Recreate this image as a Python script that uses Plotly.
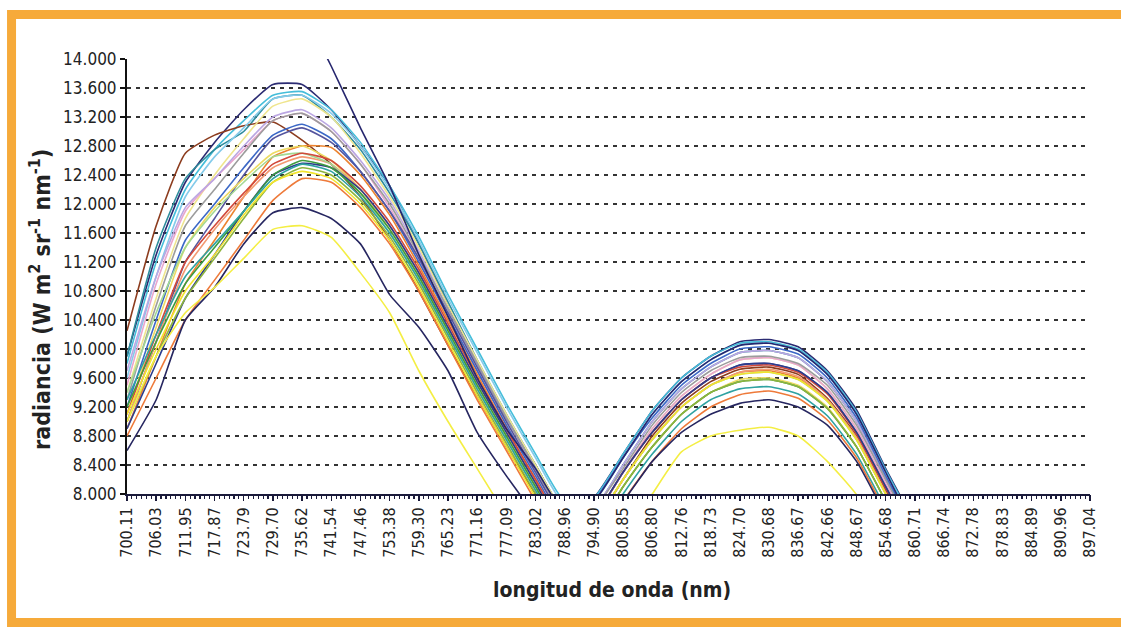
import plotly.graph_objects as go

# ---------------- data ----------------
wavelength_labels = [
    "700.11", "706.03", "711.95", "717.87", "723.79", "729.70", "735.62", "741.54",
    "747.46", "753.38", "759.30", "765.23", "771.16", "777.09", "783.02", "788.96",
    "794.90", "800.85", "806.80", "812.76", "818.73", "824.70", "830.68", "836.67",
    "842.66", "848.67", "854.68", "860.71", "866.74", "872.78", "878.83", "884.89",
    "890.96", "897.04",
]

N = None
# radiance values at each labelled wavelength (None = not readable / far below axis)
navy_top  = [9900, 11300, 12300, 12850, 13300, 13650, 13650, 13300, 12800, 12250, 11450, 10600, 9800, 9050, 8400, 7750,
             7950, 8550, 9150, 9600, 9900, 10100, 10130, 10030, 9700, 9160, 8350, 7600, N, N, N, N, N, N]
cyan      = [9800, 11200, 12200, 12750, 13150, 13500, 13550, 13300, 12850, 12250, 11550, 10750, 10000, 9250, 8550, 7900,
             7950, 8550, 9150, 9600, 9900, 10080, 10100, 10000, 9680, 9130, 8330, 7580, N, N, N, N, N, N]
teal      = [9900, 11400, 12350, 12750, 13000, 13450, 13500, 13200, 12750, 12150, 11450, 10650, 9850, 9100, 8400, 7750,
             7800, 8400, 9000, 9450, 9750, 9950, 9980, 9880, 9550, 9000, 8200, 7500, N, N, N, N, N, N]
brown     = [10250, 11700, 12700, 12950, 13080, 13130, 12880, 12550, 12100, 11500, 10800, 10050, 9350, 8650, 8000, 7400,
             7600, 8200, 8800, 9250, 9550, 9720, 9750, 9650, 9320, 8800, 8050, 7300, N, N, N, N, N, N]
light_blue = [9600, 11000, 12100, 12650, 13050, 13450, 13500, 13250, 12800, 12200, 11500, 10700, 9950, 9200, 8500, 7850,
              7900, 8500, 9100, 9550, 9850, 10050, 10080, 9980, 9650, 9100, 8300, 7550, N, N, N, N, N, N]
pale_yellow = [9400, 10700, 11800, 12400, 12900, 13350, 13450, 13200, 12700, 12100, 11400, 10600, 9850, 9100, 8400, 7750,
               7700, 8300, 8900, 9350, 9650, 9850, 9880, 9780, 9450, 8900, 8100, 7400, N, N, N, N, N, N]
pink      = [9500, 10900, 11900, 12350, 12750, 13150, 13250, 13000, 12550, 11950, 11250, 10450, 9700, 8950, 8300, 7650,
             7700, 8300, 8900, 9350, 9650, 9850, 9880, 9780, 9450, 8900, 8150, 7400, N, N, N, N, N, N]
lavender  = [9700, 11000, 11950, 12350, 12800, 13200, 13300, 13050, 12600, 12050, 11350, 10550, 9800, 9050, 8350, 7700,
             7800, 8400, 9000, 9450, 9750, 9950, 9980, 9880, 9550, 9000, 8200, 7450, N, N, N, N, N, N]
gray      = [9300, 10600, 11700, 12200, 12700, 13150, 13250, 13000, 12550, 12000, 11300, 10550, 9800, 9050, 8350, 7700,
             7800, 8350, 8950, 9400, 9700, 9880, 9900, 9800, 9500, 8950, 8200, 7450, N, N, N, N, N, N]
blue      = [9200, 10400, 11500, 12000, 12500, 12950, 13100, 12900, 12450, 11900, 11200, 10450, 9700, 8950, 8250, 7600,
             7900, 8500, 9050, 9500, 9800, 10000, 10030, 9930, 9600, 9050, 8250, 7500, N, N, N, N, N, N]
slate     = [9000, 10100, 11200, 11800, 12400, 12900, 13050, 12850, 12450, 11900, 11250, 10500, 9750, 9000, 8300, 7650,
             7700, 8300, 8850, 9300, 9600, 9780, 9800, 9700, 9400, 8850, 8100, 7350, N, N, N, N, N, N]
orange_hi = [8900, 9900, 10900, 11500, 12100, 12650, 12800, 12780, 12400, 11850, 11150, 10400, 9650, 8900, 8200, 7550,
             7600, 8200, 8750, 9200, 9500, 9680, 9700, 9600, 9300, 8750, 8000, 7300, N, N, N, N, N, N]
straw     = [9100, 10300, 11400, 11950, 12350, 12700, 12800, 12600, 12200, 11650, 11000, 10250, 9500, 8800, 8100, 7450,
             7500, 8100, 8650, 9100, 9400, 9580, 9600, 9500, 9200, 8650, 7900, 7200, N, N, N, N, N, N]
salmon    = [9000, 10100, 11100, 11650, 12100, 12500, 12650, 12550, 12200, 11700, 11050, 10300, 9550, 8850, 8150, 7500,
             7600, 8200, 8750, 9200, 9500, 9680, 9720, 9620, 9300, 8780, 8020, 7300, N, N, N, N, N, N]
light_green = [9400, 10500, 11400, 11900, 12300, 12650, 12700, 12550, 12150, 11600, 10950, 10200, 9450, 8750, 8050, 7400,
               7600, 8200, 8750, 9200, 9500, 9650, 9680, 9580, 9280, 8750, 8000, 7300, N, N, N, N, N, N]
red       = [9100, 10200, 11200, 11700, 12150, 12550, 12700, 12600, 12250, 11750, 11100, 10350, 9600, 8900, 8200, 7550,
             7700, 8300, 8850, 9300, 9600, 9750, 9780, 9680, 9380, 8830, 8080, 7350, N, N, N, N, N, N]
dark_blue = [8900, 9800, 10700, 11300, 11900, 12400, 12560, 12500, 12200, 11700, 11050, 10300, 9550, 8850, 8150, 7500,
             7700, 8300, 8850, 9300, 9600, 9780, 9800, 9700, 9400, 8850, 8100, 7350, N, N, N, N, N, N]
green     = [9200, 10100, 10900, 11400, 11900, 12400, 12600, 12500, 12150, 11650, 11000, 10250, 9500, 8800, 8100, 7450,
             7500, 8100, 8650, 9100, 9400, 9550, 9580, 9480, 9180, 8650, 7900, 7200, N, N, N, N, N, N]
teal2     = [9300, 10200, 11000, 11450, 11900, 12350, 12550, 12450, 12100, 11600, 10950, 10200, 9450, 8750, 8050, 7400,
             7400, 8000, 8550, 9000, 9300, 9450, 9480, 9380, 9080, 8550, 7800, 7100, N, N, N, N, N, N]
olive     = [9000, 9900, 10700, 11250, 11800, 12300, 12500, 12400, 12050, 11550, 10900, 10150, 9400, 8700, 8000, 7350,
             7500, 8100, 8650, 9100, 9400, 9550, 9580, 9480, 9180, 8650, 7900, 7200, N, N, N, N, N, N]
yellow    = [9100, 10000, 10800, 11300, 11850, 12300, 12450, 12350, 12000, 11500, 10850, 10100, 9350, 8650, 7950, 7300,
             7600, 8200, 8750, 9200, 9500, 9650, 9680, 9580, 9280, 8750, 8000, 7300, N, N, N, N, N, N]
orange_lo = [8800, 9600, 10400, 10950, 11500, 12050, 12350, 12300, 11950, 11450, 10800, 10050, 9300, 8600, 7900, 7250,
             7300, 7900, 8450, 8900, 9200, 9370, 9420, 9320, 9020, 8500, 7750, 7050, N, N, N, N, N, N]
navy_low  = [8600, 9300, 10400, 10850, 11450, 11880, 11950, 11800, 11450, 10750, 10300, 9700, 8850, 8250, 7700, N,
             7500, 7900, 8450, 8850, 9100, 9250, 9300, 9200, 8950, 8450, 7700, N, N, N, N, N, N, N]
yellow_low = [9000, 9900, 10500, 10850, 11250, 11650, 11700, 11540, 11050, 10500, 9700, 9000, 8350, 7700, N, N,
              N, 7400, 8000, 8580, 8800, 8880, 8920, 8800, 8450, 7990, 7300, N, N, N, N, N, N, N]
navy_outlier = [N, N, N, N, N, 15500, 14700, 13900, 13050, 12250, 11300, 10450, 9600, 8900, 8350, 7750,
                7900, 8500, 9100, 9550, 9850, 10050, 10080, 9980, 9650, 9100, 8300, 7500, N, N, N, N, N, N]

series_names = [
    "navy_top", "cyan", "teal", "brown", "light_blue", "pale_yellow", "pink", "lavender", "gray",
    "blue", "slate", "orange_hi", "straw", "salmon", "light_green", "red", "dark_blue", "green",
    "teal2", "olive", "yellow", "orange_lo", "navy_low", "yellow_low", "navy_outlier",
]
series_values = [
    navy_top, cyan, teal, brown, light_blue, pale_yellow, pink, lavender, gray,
    blue, slate, orange_hi, straw, salmon, light_green, red, dark_blue, green,
    teal2, olive, yellow, orange_lo, navy_low, yellow_low, navy_outlier,
]
series_colors = [
    "#2B2B72", "#45BEDA", "#2D8C9C", "#8C3C1E", "#84CBEA", "#EFE58E", "#E9A6CE", "#BBA6E2", "#9C9C9C",
    "#3C68C6", "#55559E", "#EC8430", "#EDDB62", "#F39A72", "#A3D892", "#D24A3C", "#2C3C8C", "#3E9C3E",
    "#2FA2A2", "#8DB43E", "#F2E42C", "#EE7A3A", "#262660", "#F4EE44", "#26266E",
]

y_ticks = list(range(8000, 14001, 400))

# ---------------- figure ----------------
FONT = "Liberation Sans Narrow, Arial Narrow, DejaVu Sans Condensed, Roboto Condensed, Roboto, sans-serif"

fig = go.Figure()
for name, vals, col in zip(series_names, series_values, series_colors):
    fig.add_trace(go.Scatter(
        x=wavelength_labels, y=vals, mode="lines", name=name,
        line=dict(color=col, width=1.6, shape="spline", smoothing=0.5), connectgaps=False,
        hoverinfo="skip", showlegend=False,
    ))
# empty carrier so that the minor-tick axis is drawn
fig.add_trace(go.Scatter(x=[], y=[], xaxis="x2", mode="lines", showlegend=False, hoverinfo="skip"))

tick_font = dict(family=FONT, size=16, color="#222")

fig.update_layout(
    width=1121, height=632,
    margin=dict(l=127, r=31, t=59, b=138),
    paper_bgcolor="white", plot_bgcolor="white",
    separators=",.",
    showlegend=False,
    xaxis=dict(
        type="category", categoryorder="array", categoryarray=wavelength_labels,
        range=[0, 33], tickangle=-90, tickfont=tick_font,
        showgrid=False, zeroline=False,
        showline=True, linecolor="#1a1a3a", linewidth=2,
        ticks="outside", ticklen=5, tickcolor="#1a1a3a", tickwidth=1.5,
        fixedrange=True,
    ),
    xaxis2=dict(
        overlaying="x", anchor="y", side="bottom", range=[0, 33], type="linear",
        tickmode="linear", tick0=0, dtick=1/6,
        ticks="outside", ticklen=4, tickcolor="#1a1a3a", tickwidth=1.2,
        showticklabels=False, showgrid=False, zeroline=False, showline=False,
        fixedrange=True,
    ),
    yaxis=dict(
        range=[8000, 14000], tickmode="array", tickvals=y_ticks,
        tickformat=",d", tickfont=dict(tick_font, size=17),
        showgrid=True, gridcolor="#333333", gridwidth=1.8, griddash="4px,5px",
        zeroline=False, showline=True, linecolor="#111111", linewidth=2,
        ticks="outside", ticklen=5, tickcolor="#111111", tickwidth=2,
        fixedrange=True,
    ),
    annotations=[
        dict(text="<b>radiancia (W m<sup>2</sup> sr<sup>-1</sup> nm<sup>-1</sup>)</b>",
             xref="paper", yref="paper", x=-0.0903, y=0.446, textangle=-90,
             showarrow=False, xanchor="center", yanchor="middle",
             font=dict(family=FONT, size=23, color="#222")),
        dict(text="<b>longitud de onda (nm)</b>",
             xref="paper", yref="paper", x=0.5036, y=-0.2207,
             showarrow=False, xanchor="center", yanchor="middle",
             font=dict(family=FONT, size=21, color="#222")),
    ],
    shapes=[
        dict(type="rect", xref="paper", yref="paper",
             x0=-0.1199, x1=1.07, y0=-0.2954, y1=1.1023,
             line=dict(color="#F6AA3A", width=9), fillcolor="rgba(0,0,0,0)", layer="below"),
    ],
)

fig.write_html(
    "out.html",
    config={"displayModeBar": False, "staticPlot": True},
    post_script="document.body.style.margin='0';document.body.style.overflow='hidden';",
)
